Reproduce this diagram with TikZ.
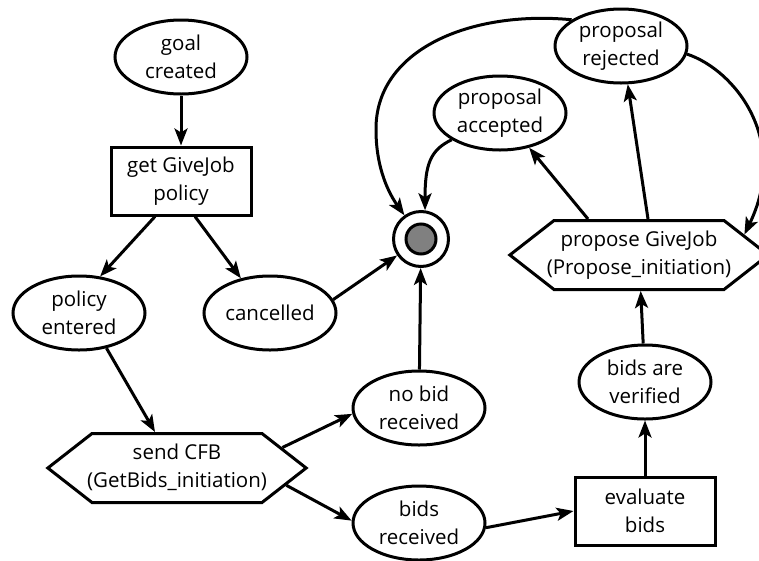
\documentclass[tikz,border=0pt]{standalone}
\usepackage{fontspec}
\setmainfont{Open Sans}
\usetikzlibrary{shapes.geometric,shapes.symbols,arrows.meta}
\newcommand{\hexlabel}[2]{\makebox[170pt][c]{\begin{tabular}{@{}c@{}}#1\\#2\end{tabular}}}
\tikzset{
  base/.style={draw=black, line width=3pt, align=center, inner sep=0pt,
    font=\fontsize{20.5}{28}\selectfont},
  state/.style={base, ellipse, minimum width=132pt, minimum height=74pt},
  act/.style={base, rectangle, minimum width=140pt, minimum height=68pt},
  msg/.style={draw=black, line width=3pt, inner sep=0pt,
    font=\fontsize{20.5}{28}\selectfont,
    signal, signal to=west and east, signal pointer angle=76,
    minimum height=69pt},
  fin/.style={draw=black, line width=3pt, circle, minimum size=55pt, inner sep=0pt},
  arr/.style={line width=3pt, -{Stealth[length=17pt,width=13pt,inset=4pt]}}
}
\begin{document}
\begin{tikzpicture}[x=1pt,y=-1pt]
\useasboundingbox (0,0) rectangle (759,560);
\node[state] (goal) at (181,57) {goal\\created};
\node[act] (policy) at (181,181) {get GiveJob\\policy};
\node[state] (entered) at (79,313) {policy\\entered};
\node[state] (cancelled) at (270,313) {cancelled};
\node[fin] (final) at (421,239) {};
\fill[gray, draw=black, line width=3pt] (final.center) circle (15pt);
\node[state] (accepted) at (500,113) {proposal\\accepted};
\node[state] (rejected) at (621,46) {proposal\\rejected};
\node[msg] (propose) at (639,255) {\hexlabel{propose GiveJob}{(Propose\_initiation)}};
\node[state] (verified) at (645,382) {bids are\\verified};
\node[state] (nobid) at (419,408) {no bid\\received};
\node[msg] (sendcfb) at (177,468) {\hexlabel{send CFB}{(GetBids\_initiation)}};
\node[state] (bidsrec) at (419,523) {bids\\received};
\node[act] (evaluate) at (645,511) {evaluate\\bids};

\draw[arr] (goal) -- (policy);
\draw[arr] ([xshift=-26pt]policy.south) -- (entered.60);
\draw[arr] ([xshift=14pt]policy.south) -- (cancelled.130);
\draw[arr] (cancelled.12) -- (final);
\draw[arr] (nobid) -- (final);
\draw[arr] (entered.-52) -- ([xshift=-22pt]sendcfb.north);
\draw[arr] (sendcfb.11) -- (nobid.185);
\draw[arr] (sendcfb.-9) -- (bidsrec.178);
\draw[arr] (bidsrec.-4) -- (evaluate.west);
\draw[arr] (evaluate) -- (verified);
\draw[arr] (verified) -- (propose);
\draw[arr] ([xshift=-51pt]propose.north) -- (accepted.-50);
\draw[arr] ([xshift=9pt]propose.north) -- (rejected.-80);
\draw[arr] (rejected.-7) .. controls (735,70) and (790,140) .. (propose.11);
\draw[arr] (rejected.152) .. controls (470,10) and (375,50) .. (376,130)
  .. controls (376,170) and (390,195) .. (final.125);
\draw[arr] (accepted.209) .. controls (430,150) and (425,165) .. (final.82);
\end{tikzpicture}
\end{document}
